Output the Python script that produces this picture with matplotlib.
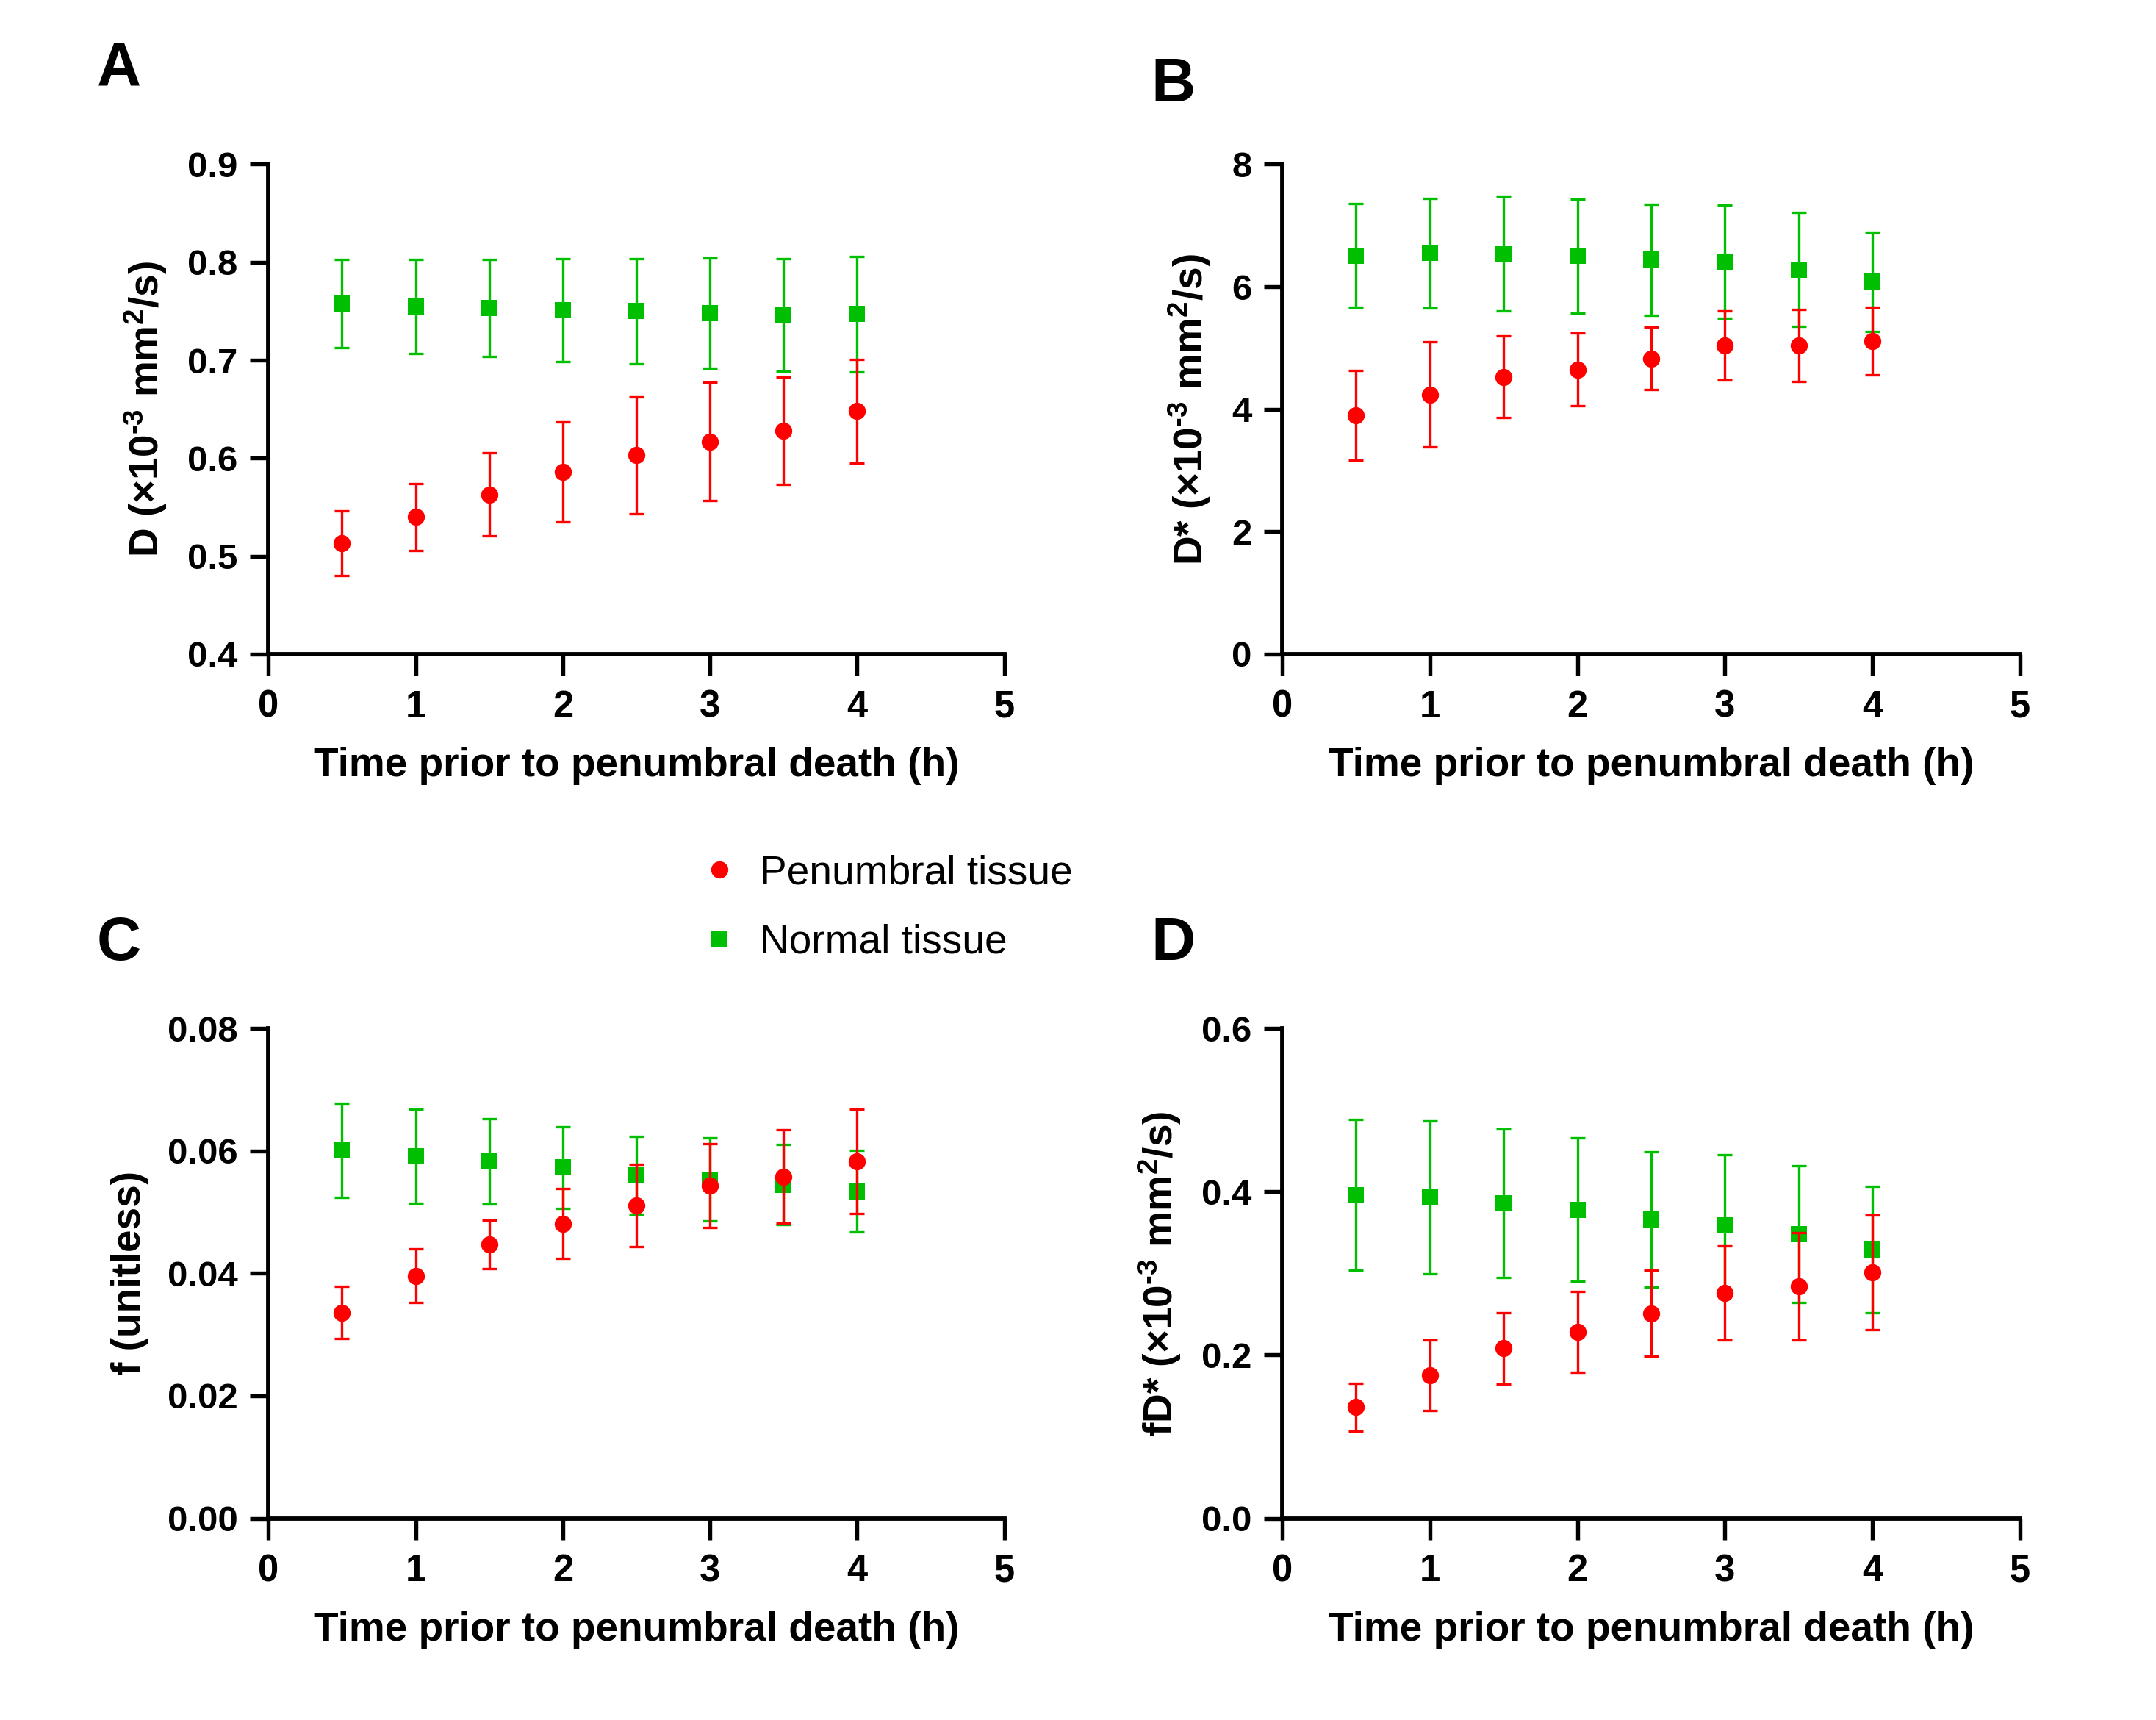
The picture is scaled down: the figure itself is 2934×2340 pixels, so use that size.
import matplotlib
matplotlib.use("Agg")
import matplotlib.pyplot as plt
from matplotlib.lines import Line2D
from matplotlib.ticker import FormatStrFormatter

plt.rcParams['font.family'] = ['Liberation Sans', 'DejaVu Sans']
plt.rcParams['mathtext.fontset'] = 'custom'
plt.rcParams['mathtext.rm'] = 'Liberation Sans:bold'
plt.rcParams['mathtext.it'] = 'Liberation Sans:bold'
plt.rcParams['mathtext.bf'] = 'Liberation Sans:bold'

RED = '#FF0000'
GREEN = '#00BF00'

time_h = [0.5, 1.0, 1.5, 2.0, 2.5, 3.0, 3.5, 4.0]

# panel A: D
d_normal = [0.758, 0.755, 0.753, 0.751, 0.750, 0.748, 0.746, 0.747]
d_normal_sd = [0.045, 0.048, 0.0495, 0.0525, 0.0535, 0.056, 0.0575, 0.059]
d_penumbra = [0.513, 0.540, 0.563, 0.586, 0.603, 0.617, 0.628, 0.648]
d_penumbra_sd = [0.033, 0.034, 0.0425, 0.051, 0.0595, 0.0605, 0.055, 0.053]

# panel B: D*
dstar_normal = [6.51, 6.55, 6.54, 6.50, 6.44, 6.41, 6.28, 6.08]
dstar_normal_sd = [0.845, 0.895, 0.935, 0.93, 0.905, 0.925, 0.93, 0.81]
dstar_penumbra = [3.90, 4.24, 4.53, 4.65, 4.83, 5.04, 5.04, 5.11]
dstar_penumbra_sd = [0.73, 0.86, 0.67, 0.595, 0.51, 0.56, 0.585, 0.55]

# panel C: f
f_normal = [0.0601, 0.0591, 0.0583, 0.0573, 0.0560, 0.0553, 0.0545, 0.0534]
f_normal_sd = [0.0077, 0.00765, 0.0070, 0.00665, 0.0064, 0.0068, 0.00655, 0.0067]
f_penumbra = [0.0336, 0.0396, 0.0447, 0.0481, 0.0511, 0.0543, 0.0558, 0.0583]
f_penumbra_sd = [0.0043, 0.0044, 0.0040, 0.0057, 0.0067, 0.00685, 0.0076, 0.00855]

# panel D: fD*
fd_normal = [0.396, 0.393, 0.386, 0.378, 0.366, 0.359, 0.348, 0.329]
fd_normal_sd = [0.092, 0.094, 0.091, 0.088, 0.083, 0.086, 0.084, 0.0775]
fd_penumbra = [0.136, 0.175, 0.208, 0.228, 0.251, 0.276, 0.284, 0.301]
fd_penumbra_sd = [0.0295, 0.043, 0.044, 0.0495, 0.0525, 0.058, 0.0655, 0.0705]

units = ' (×10$^{\u2010 3}$ mm$^{2}$/s)'

panels = [
    dict(letter='A', normal=d_normal, normal_sd=d_normal_sd,
         pen=d_penumbra, pen_sd=d_penumbra_sd,
         ylabel='D' + units, ylim=(0.4, 0.9),
         yticks=[0.4, 0.5, 0.6, 0.7, 0.8, 0.9], fmt='%.1f'),
    dict(letter='B', normal=dstar_normal, normal_sd=dstar_normal_sd,
         pen=dstar_penumbra, pen_sd=dstar_penumbra_sd,
         ylabel='D*' + units, ylim=(0, 8),
         yticks=[0, 2, 4, 6, 8], fmt='%d'),
    dict(letter='C', normal=f_normal, normal_sd=f_normal_sd,
         pen=f_penumbra, pen_sd=f_penumbra_sd,
         ylabel='f (unitless)', ylim=(0, 0.08),
         yticks=[0.0, 0.02, 0.04, 0.06, 0.08], fmt='%.2f'),
    dict(letter='D', normal=fd_normal, normal_sd=fd_normal_sd,
         pen=fd_penumbra, pen_sd=fd_penumbra_sd,
         ylabel='fD*' + units, ylim=(0, 0.6),
         yticks=[0.0, 0.2, 0.4, 0.6], fmt='%.1f'),
]

# axes rectangles [left, bottom, width, height]
rects = [
    [0.1245, 0.6197, 0.3413, 0.2848],
    [0.5948, 0.6197, 0.3420, 0.2848],
    [0.1245, 0.1173, 0.3413, 0.2848],
    [0.5948, 0.1173, 0.3420, 0.2848],
]
letter_pos = [(0.045, 0.950), (0.534, 0.941), (0.045, 0.442), (0.534, 0.442)]

fig = plt.figure(figsize=(9.78, 7.8), dpi=300)

for p, rect, lp in zip(panels, rects, letter_pos):
    ax = fig.add_axes(rect)
    # green first, red on top
    for vals, sd, marker, color, ms, z in [
            (p['normal'], p['normal_sd'], 's', GREEN, 5.4, 2),
            (p['pen'], p['pen_sd'], 'o', RED, 5.6, 3)]:
        ax.errorbar(time_h, vals, yerr=sd, fmt='none', ecolor=color,
                    elinewidth=0.8, capsize=2.4, capthick=0.8, zorder=z)
        ax.plot(time_h, vals, ls='none', marker=marker, color=color,
                ms=ms, mew=0, zorder=z + 0.5)
    ax.set_xlim(0, 5)
    ax.set_ylim(*p['ylim'])
    ax.set_xticks(range(6))
    ax.set_yticks(p['yticks'])
    ax.yaxis.set_major_formatter(FormatStrFormatter(p['fmt']))
    for side in ['top', 'right']:
        ax.spines[side].set_visible(False)
    for side in ['left', 'bottom']:
        ax.spines[side].set_linewidth(1.4)
        ax.spines[side].set_capstyle('projecting')
    ax.tick_params(axis='x', width=1.3, length=7, labelsize=12.2, pad=4.5)
    ax.tick_params(axis='y', width=1.3, length=6, labelsize=11.8, pad=4)
    for lab in ax.get_xticklabels() + ax.get_yticklabels():
        lab.set_fontweight('bold')
    ax.set_xlabel('Time prior to penumbral death (h)', fontsize=13.2,
                  fontweight='bold', labelpad=7)
    ax.set_ylabel(p['ylabel'], fontsize=13.2, fontweight='bold', labelpad=6)
    fig.text(lp[0], lp[1], p['letter'], fontsize=20, fontweight='bold',
             ha='left', va='baseline')

handles = [
    Line2D([], [], ls='none', marker='o', color=RED, ms=5.6, mew=0),
    Line2D([], [], ls='none', marker='s', color=GREEN, ms=5.4, mew=0),
]
fig.legend(handles, ['Penumbral tissue', 'Normal tissue'], loc='center left',
           bbox_to_anchor=(0.3243, 0.472), frameon=False, fontsize=13.2,
           handlelength=1.0, handletextpad=0.5, labelspacing=0.78,
           borderpad=0, borderaxespad=0)

fig.savefig('out.png', dpi=300)
